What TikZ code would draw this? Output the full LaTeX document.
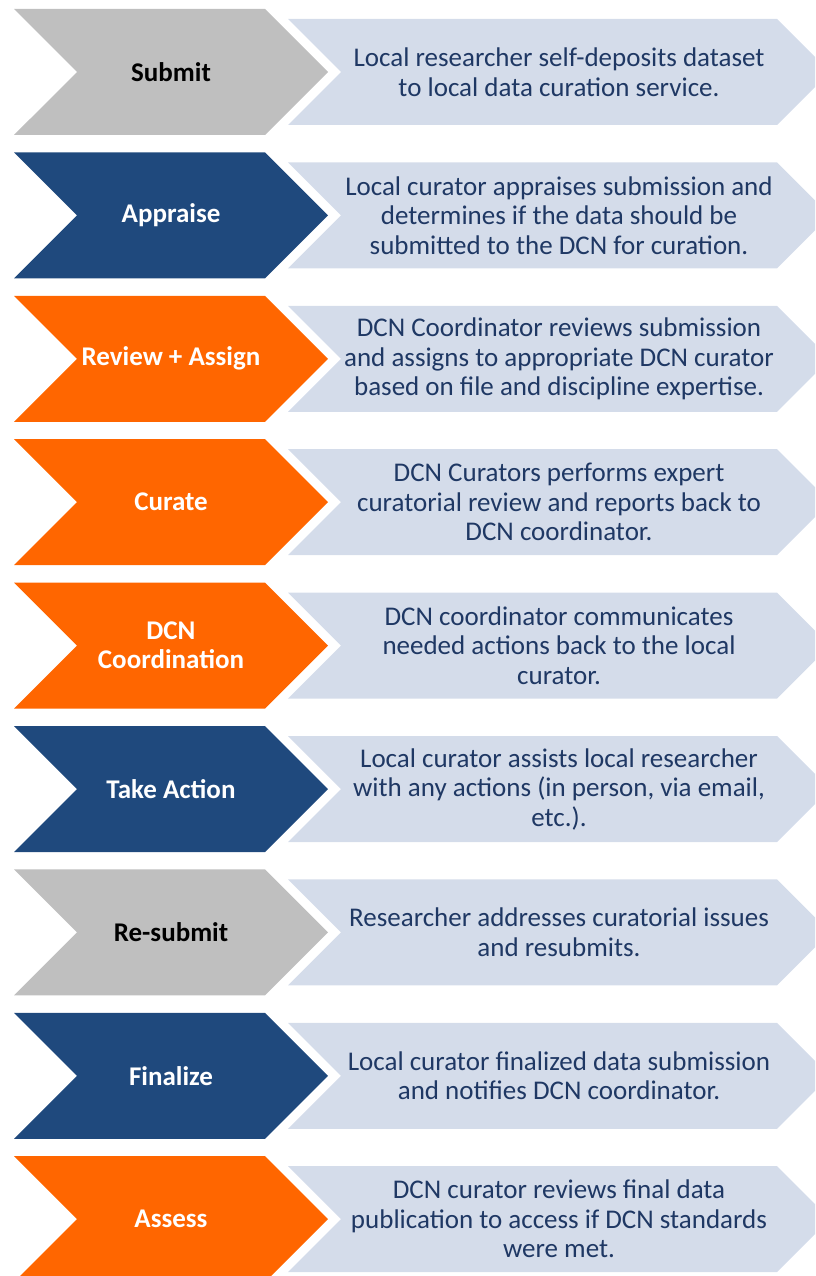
\documentclass[tikz,border=0pt]{standalone}
\usepackage{fontspec}
\setmainfont{Carlito}
\usepackage{xcolor}
\usepackage{tikz}
\usetikzlibrary{shapes.symbols}
\definecolor{wfgrey}{HTML}{BFBFBF}
\definecolor{wfblue}{HTML}{1F497D}
\definecolor{wforange}{HTML}{FF6600}
\definecolor{wfpale}{HTML}{D4DCEA}
\definecolor{wfnavy}{HTML}{1F3864}

\begin{document}
\begin{tikzpicture}[x=1pt, y=-1pt,
  stage/.style={signal, signal from=west, signal to=east, signal pointer angle=90,
    minimum width=314pt, minimum height=126pt, inner sep=0pt, align=center,
    font=\fontsize{27}{29}\selectfont\bfseries},
  note/.style={signal, signal from=west, signal to=east, signal pointer angle=90,
    fill=wfpale, minimum width=542pt, minimum height=106pt, inner sep=0pt, align=center,
    text=wfnavy, font=\fontsize{27}{29.5}\selectfont}]
  \useasboundingbox (0,0) rectangle (815,1276);
  \clip (0,0) rectangle (815,1276);

  % step chevrons on the left
  \node[stage, fill=wfgrey, text=black] (submit) at (171,72) {Submit};
  \node[stage, fill=wfblue, text=white] (appraise) at (171,215.4) {Appraise};
  \node[stage, fill=wforange, text=white] (review) at (171,358.8) {Review + Assign};
  \node[stage, fill=wforange, text=white] (curate) at (171,502.2) {Curate};
  \node[stage, fill=wforange, text=white] (coord) at (171,645.6) {DCN\\Coordination};
  \node[stage, fill=wfblue, text=white] (action) at (171,789) {Take Action};
  \node[stage, fill=wfgrey, text=black] (resubmit) at (171,932.4) {Re-submit};
  \node[stage, fill=wfblue, text=white] (finalize) at (171,1075.8) {Finalize};
  \node[stage, fill=wforange, text=white] (assess) at (171,1219.2) {Assess};

  % descriptions on the right
  \node[note] (submit-txt) at (559,72) {Local researcher self-deposits dataset\\to local data curation service.};
  \node[note] (appraise-txt) at (559,215.4) {Local curator appraises submission and\\determines if the data should be\\submitted to the DCN for curation.};
  \node[note] (review-txt) at (559,358.8) {DCN Coordinator reviews submission\\and assigns to appropriate DCN curator\\based on file and discipline expertise.};
  \node[note] (curate-txt) at (559,502.2) {DCN Curators performs expert\\curatorial review and reports back to\\DCN coordinator.};
  \node[note] (coord-txt) at (559,645.6) {DCN coordinator communicates\\needed actions back to the local\\curator.};
  \node[note] (action-txt) at (559,789) {Local curator assists local researcher\\with any actions (in person, via email,\\etc.).};
  \node[note] (resubmit-txt) at (559,932.4) {Researcher addresses curatorial issues\\and resubmits.};
  \node[note] (finalize-txt) at (559,1075.8) {Local curator finalized data submission\\and notifies DCN coordinator.};
  \node[note] (assess-txt) at (559,1219.2) {DCN curator reviews final data\\publication to access if DCN standards\\were met.};
\end{tikzpicture}
\end{document}
